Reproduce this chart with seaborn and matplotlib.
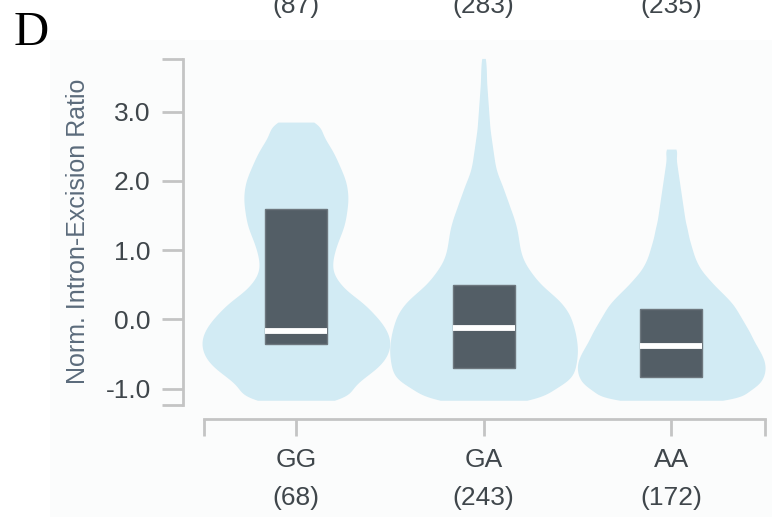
import numpy as np
import pandas as pd
import matplotlib
matplotlib.use("Agg")
import matplotlib.pyplot as plt
import matplotlib.transforms as mtransforms
from matplotlib.patches import Rectangle
import seaborn as sns

genotypes = ['GG', 'GA', 'AA']
n_bottom = ['(68)', '(243)', '(172)']
n_top = ['(87)', '(283)', '(235)']

# violin shapes: ratio levels and how many samples sit at each level
gg_levels = [-1.17, -1.1, -1.0, -0.9, -0.8, -0.7, -0.6, -0.5, -0.4, -0.3, -0.2, -0.1,
             0.0, 0.1, 0.2, 0.3, 0.4, 0.5, 0.6, 0.7, 0.8, 0.9, 1.0, 1.1, 1.2, 1.3,
             1.4, 1.5, 1.6, 1.7, 1.8, 1.9, 2.0, 2.1, 2.2, 2.3, 2.4, 2.5, 2.6, 2.7, 2.8, 2.85]
gg_counts = [44, 48, 55, 62, 72, 82, 88, 92, 94, 94, 92, 88,
             83, 76, 70, 62, 50, 45, 39, 36, 36, 37, 39, 41, 44, 47,
             49, 50, 51, 52, 52, 51, 50, 47, 44, 41, 38, 34, 29, 25, 22, 16]

ga_levels = [-1.17, -1.1, -1.0, -0.9, -0.8, -0.7, -0.6, -0.5, -0.4, -0.3, -0.2, -0.1,
             0.0, 0.1, 0.2, 0.3, 0.4, 0.5, 0.6, 0.7, 0.8, 0.9, 1.0, 1.1, 1.2, 1.3,
             1.4, 1.5, 1.6, 1.7, 1.8, 1.9, 2.0, 2.1, 2.2, 2.3, 2.4, 2.5, 2.6, 2.7,
             2.8, 2.9, 3.0, 3.1, 3.2, 3.3, 3.4, 3.5, 3.6, 3.7, 3.77]
ga_counts = [44, 56, 72, 86, 91, 93, 94, 95, 95, 94, 93, 91,
             89, 86, 81, 75, 66, 58, 52, 47, 42, 39, 37, 36, 35, 34,
             32, 30, 27, 25, 22, 20, 17, 14, 12, 11, 10, 9, 8, 7,
             6, 6, 5, 5, 4, 4, 3, 3, 3, 2, 2]

aa_levels = [-1.17, -1.1, -1.0, -0.9, -0.8, -0.7, -0.6, -0.5, -0.4, -0.3, -0.2, -0.1,
             0.0, 0.1, 0.2, 0.3, 0.4, 0.5, 0.6, 0.7, 0.8, 0.9, 1.0, 1.1, 1.2, 1.3,
             1.4, 1.5, 1.6, 1.7, 1.8, 1.9, 2.0, 2.1, 2.2, 2.3, 2.4, 2.46]
aa_counts = [46, 64, 82, 89, 92, 93, 92, 89, 85, 81, 78, 74,
             70, 66, 62, 56, 49, 42, 36, 30, 26, 23, 21, 19, 17, 16,
             14, 13, 12, 11, 10, 9, 8, 7, 6, 5, 4, 5]

# box = interquartile range, white bar = median
q1 = [-0.35, -0.71, -0.84]
medians = [-0.175, -0.125, -0.39]
q3 = [1.60, 0.50, 0.15]

frames = []
for g, lv, ct in [('GG', gg_levels, gg_counts), ('GA', ga_levels, ga_counts), ('AA', aa_levels, aa_counts)]:
    frames.append(pd.DataFrame({'genotype': g, 'ratio': np.repeat(lv, ct)}))
df = pd.concat(frames, ignore_index=True)

sns.set_style('white')
plt.rcParams['font.family'] = ['Liberation Sans', 'DejaVu Sans']

axis_col = '#c4c4c4'
text_col = '#3f464b'
fig = plt.figure(figsize=(7.72, 5.17), dpi=100)
fig.patches.append(Rectangle((50 / 772, 0), 1, 1 - 40 / 517, transform=fig.transFigure,
                             facecolor='#fbfcfc', edgecolor='none', zorder=-10))
ax = fig.add_axes([0.2617, 0.2164, 0.7293, 0.6706])
ax.set_facecolor('none')

sns.violinplot(data=df, x='genotype', y='ratio', order=genotypes, color='#d2ebf4',
               saturation=1, inner=None, cut=0, density_norm='width', width=1.0,
               bw_method=0.09, gridsize=300, linewidth=0, ax=ax)

stats = [dict(q1=a, med=m, q3=b, whislo=a, whishi=b, label=g)
         for a, m, b, g in zip(q1, medians, q3, genotypes)]
ax.bxp(stats, positions=[0, 1, 2], widths=0.33, patch_artist=True,
       showfliers=False, showcaps=False, manage_ticks=False,
       boxprops=dict(facecolor='#535e66', edgecolor='#6d777e', linewidth=1),
       medianprops=dict(color='white', linewidth=4.2, solid_capstyle='butt'),
       whiskerprops=dict(linewidth=0))
for p in ax.patches[-3:]:
    p.set_zorder(3)
for l in ax.lines:
    l.set_zorder(4)

ax.set_xlim(-0.5, 2.5)
ax.set_ylim(-1.24, 3.77)
ax.set_yticks([-1, 0, 1, 2, 3])
ax.set_yticklabels(['-1.0', '0.0', '1.0', '2.0', '3.0'])
ax.set_yticks([-1.24, 3.76], minor=True)
ax.set_xticks([0, 1, 2])
ax.set_xticklabels(genotypes)
ax.set_xticks([-0.49, 2.5], minor=True)
ax.tick_params(axis='y', which='both', left=True, length=15, width=2, color=axis_col,
               pad=8, labelsize=19, labelcolor=text_col)
ax.tick_params(axis='x', which='both', bottom=True, length=12.5, width=2, color=axis_col,
               pad=8, labelsize=19, labelcolor=text_col)

for s in ['top', 'right']:
    ax.spines[s].set_visible(False)
ax.spines['left'].set_position(('outward', 14))
ax.spines['bottom'].set_position(('outward', 10.2))
ax.spines['left'].set_bounds(-1.24, 3.76)
ax.spines['bottom'].set_bounds(-0.49, 2.5)
for s in ['left', 'bottom']:
    ax.spines[s].set_color(axis_col)
    ax.spines[s].set_linewidth(2)

ax.set_xlabel('')
ax.set_ylabel('Norm. Intron-Excision Ratio', fontsize=18, color='#5b6b7b', labelpad=11)

# sample counts under each genotype, and those of the panel above (cut off at the top edge)
trans = mtransforms.blended_transform_factory(ax.transData, fig.transFigure)
for i, t in enumerate(n_bottom):
    ax.text(i, 1 - 505 / 517, t, transform=trans, ha='center', va='baseline',
            fontsize=19, color=text_col, clip_on=False)
for i, t in enumerate(n_top):
    ax.text(i, 1 - 13 / 517, t, transform=trans, ha='center', va='baseline',
            fontsize=19, color=text_col, clip_on=False)

fig.text(14 / 772, 1 - 45 / 517, 'D', fontsize=35, family='Liberation Serif',
         va='baseline', color='black')

fig.savefig('out.png', dpi=100)
